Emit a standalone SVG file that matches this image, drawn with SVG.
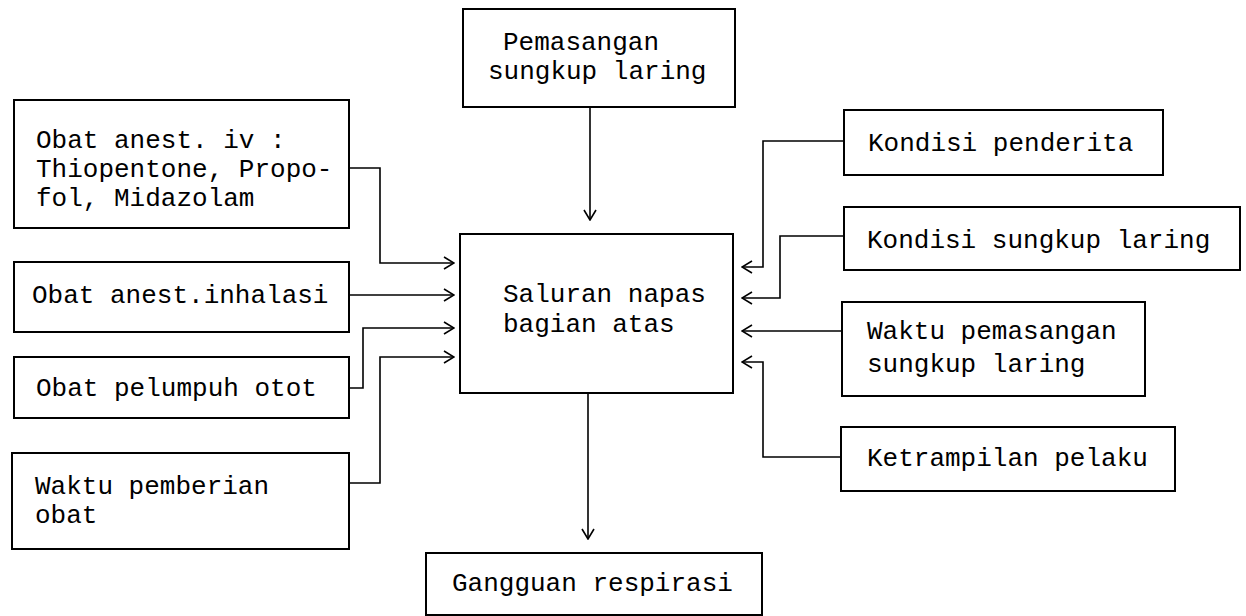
<svg xmlns="http://www.w3.org/2000/svg" width="1246" height="616" viewBox="0 0 1246 616">
<defs>
<style>
.box{fill:#fff;stroke:#000;stroke-width:2}
.t{font-family:"Liberation Mono","DejaVu Sans Mono",monospace;font-size:26px;fill:#000}
.c{fill:none;stroke:#000;stroke-width:1.6}
</style>
<marker id="ah" viewBox="0 0 12 14" refX="11" refY="7" markerWidth="12" markerHeight="14" markerUnits="userSpaceOnUse" orient="auto">
<path d="M1,1 L11,7 L1,13" fill="none" stroke="#000" stroke-width="1.6"/>
</marker>
</defs>
<rect width="1246" height="616" fill="#fff"/>
<g id="connectors">
<path class="c" d="M590,107 V220" marker-end="url(#ah)"/>
<path class="c" d="M588,393 V539" marker-end="url(#ah)"/>
<path class="c" d="M349,168 H380 V263 H454" marker-end="url(#ah)"/>
<path class="c" d="M349,295 H454" marker-end="url(#ah)"/>
<path class="c" d="M349,388 H363 V328 H454" marker-end="url(#ah)"/>
<path class="c" d="M349,483 H380 V357 H454" marker-end="url(#ah)"/>
<path class="c" d="M844,141 H763 V267 H742" marker-end="url(#ah)"/>
<path class="c" d="M844,236 H780 V298 H742" marker-end="url(#ah)"/>
<path class="c" d="M844,331 H742" marker-end="url(#ah)"/>
<path class="c" d="M841,457 H763 V362 H742" marker-end="url(#ah)"/>
</g>
<g id="pemasangan">
<rect class="box" x="463" y="9" width="272" height="98"/>
<text class="t" x="503" y="50">Pemasangan</text>
<text class="t" x="488" y="79">sungkup laring</text>
</g>
<g id="obat-iv">
<rect class="box" x="14" y="100" width="335" height="128"/>
<text class="t" x="36" y="148">Obat anest. iv :</text>
<text class="t" x="36" y="177">Thiopentone, Propo-</text>
<text class="t" x="36" y="206">fol, Midazolam</text>
</g>
<g id="obat-inhalasi">
<rect class="box" x="14" y="262" width="335" height="70"/>
<text class="t" x="32" y="303">Obat anest.inhalasi</text>
</g>
<g id="obat-pelumpuh">
<rect class="box" x="14" y="357" width="335" height="61"/>
<text class="t" x="36" y="396">Obat pelumpuh otot</text>
</g>
<g id="waktu-pemberian">
<rect class="box" x="12" y="453" width="337" height="96"/>
<text class="t" x="35" y="494">Waktu pemberian</text>
<text class="t" x="35" y="523">obat</text>
</g>
<g id="saluran">
<rect class="box" x="460" y="234" width="273" height="159"/>
<text class="t" x="503" y="302">Saluran napas</text>
<text class="t" x="503" y="332">bagian atas</text>
</g>
<g id="gangguan">
<rect class="box" x="426" y="553" width="336" height="62"/>
<text class="t" x="452" y="591">Gangguan respirasi</text>
</g>
<g id="kondisi-penderita">
<rect class="box" x="844" y="110" width="319" height="65"/>
<text class="t" x="868" y="151">Kondisi penderita</text>
</g>
<g id="kondisi-sungkup">
<rect class="box" x="844" y="207" width="396" height="63"/>
<text class="t" x="867" y="248">Kondisi sungkup laring</text>
</g>
<g id="waktu-pemasangan">
<rect class="box" x="842" y="302" width="303" height="94"/>
<text class="t" x="867" y="339">Waktu pemasangan</text>
<text class="t" x="867" y="372">sungkup laring</text>
</g>
<g id="ketrampilan">
<rect class="box" x="841" y="427" width="334" height="64"/>
<text class="t" x="867" y="466">Ketrampilan pelaku</text>
</g>
</svg>
